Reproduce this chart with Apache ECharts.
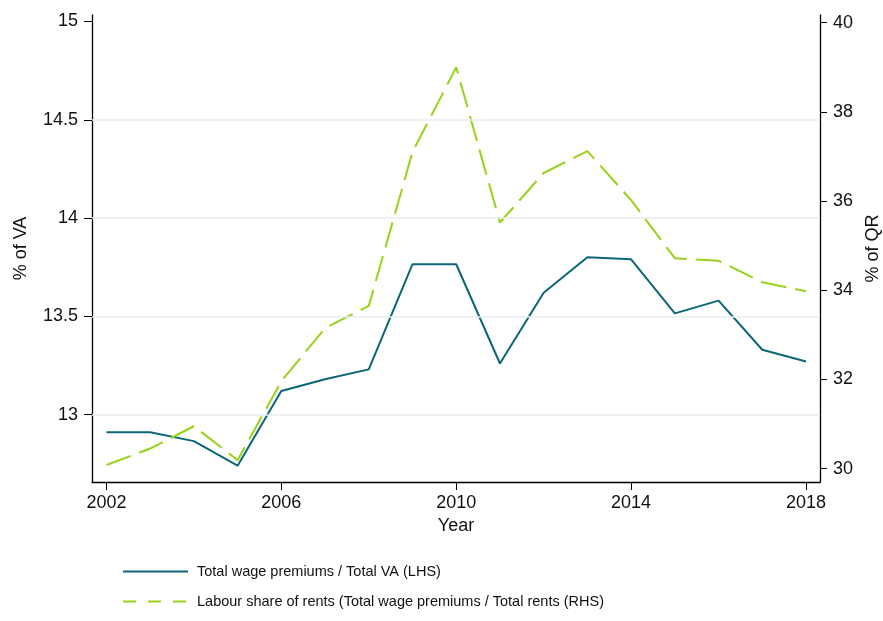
<!DOCTYPE html>
<html>
<head>
<meta charset="utf-8">
<script src="https://cdn.jsdelivr.net/npm/echarts@6/dist/echarts.min.js"></script>
<style>
  html, body { margin: 0; padding: 0; background: #fff; }
  #chart { width: 883px; height: 621px; }
</style>
</head>
<body>
<div id="chart"></div>
<script>
  // data
  var years = [2002, 2003, 2004, 2005, 2006, 2007, 2008, 2009, 2010, 2011, 2012, 2013, 2014, 2015, 2016, 2017, 2018];
  var wageVA = [12.91, 12.91, 12.865, 12.74, 13.12, 13.18, 13.23, 13.765, 13.765, 13.26, 13.62, 13.80, 13.79, 13.515, 13.58, 13.33, 13.27];
  var shareRents = [30.08, 30.45, 30.95, 30.19, 31.96, 33.15, 33.65, 37.1, 39.0, 35.52, 36.63, 37.12, 36.02, 34.72, 34.66, 34.18, 33.98];
  var xTicks = [2002, 2006, 2010, 2014, 2018];
  var leftTicks = [13, 13.5, 14, 14.5, 15];
  var rightTicks = [30, 32, 34, 36, 38, 40];
  var gridValues = [13, 13.5, 14, 14.5];

  var nameA = 'Total wage premiums / Total VA (LHS)';
  var nameB = 'Labour share of rents (Total wage premiums / Total rents (RHS)';

  var font = 'Liberation Sans, Arial, sans-serif';
  var ink = '#111';
  var teal = '#0b6677';
  var lime = '#99d11b';

  function pairs(xs, ys) {
    var out = [];
    for (var i = 0; i < xs.length; i++) out.push([xs[i], ys[i]]);
    return out;
  }

  var chart = echarts.init(document.getElementById('chart'), null, { renderer: 'canvas' });

  var axisLine = { show: true, lineStyle: { color: '#000', width: 1.3 } };

  // one legend per row, so the rows never wrap into columns
  function legendFor(name, top, dash) {
    return {
      data: [name],
      left: 122,
      top: top,
      padding: 0,
      itemWidth: 65,
      itemHeight: 14,
      itemGap: 10,
      itemStyle: { color: 'rgba(0,0,0,0)', borderWidth: 0 },
      lineStyle: { width: 2, type: dash },
      textStyle: { fontFamily: font, fontSize: 14.5, color: ink, padding: [0, 0, 0, 4] }
    };
  }

  chart.setOption({
    animation: false,
    backgroundColor: '#fff',
    textStyle: { fontFamily: font },
    grid: { left: 92, right: 63, top: 15, bottom: 139, outerBoundsMode: 'none', containLabel: false },
    legend: [
      legendFor(nameA, 564, 'solid'),
      legendFor(nameB, 594, [13, 12])
    ],
    xAxis: {
      type: 'value',
      min: 2001.67,
      max: 2018.32,
      name: 'Year',
      nameLocation: 'middle',
      nameGap: 33,
      nameTextStyle: { fontSize: 18, color: ink },
      axisLine: axisLine,
      axisTick: { show: true, length: 8, customValues: xTicks, lineStyle: { color: '#000' } },
      axisLabel: {
        fontSize: 18, color: ink, margin: 12, customValues: xTicks,
        formatter: function(v) { return String(v); }
      },
      splitLine: { show: false }
    },
    yAxis: [{
      type: 'value',
      position: 'left',
      min: 12.657,
      max: 15.033,
      name: '% of VA',
      nameLocation: 'middle',
      nameGap: 62,
      nameTextStyle: { fontSize: 18, color: ink },
      axisLine: axisLine,
      axisTick: { show: true, length: 8, customValues: leftTicks, lineStyle: { color: '#000' } },
      axisLabel: { fontSize: 18, color: ink, margin: 14, customValues: leftTicks },
      splitLine: { show: false }
    }, {
      type: 'value',
      position: 'right',
      min: 29.70,
      max: 40.173,
      name: '% of QR',
      nameLocation: 'middle',
      nameGap: 43,
      nameTextStyle: { fontSize: 18, color: ink },
      axisLine: axisLine,
      axisTick: { show: true, length: 7, customValues: rightTicks, lineStyle: { color: '#000' } },
      axisLabel: { fontSize: 18, color: ink, margin: 13, customValues: rightTicks },
      splitLine: { show: false }
    }],
    series: [{
      // light horizontal gridlines, under the data lines
      name: 'grid',
      type: 'line',
      data: [],
      z: 1,
      silent: true,
      markLine: {
        silent: true,
        symbol: ['none', 'none'],
        label: { show: false },
        lineStyle: { color: '#e6edf2', type: 'solid', width: 1.5 },
        data: gridValues.map(function(v) { return { yAxis: v }; })
      }
    }, {
      name: nameA,
      type: 'line',
      yAxisIndex: 0,
      z: 3,
      symbol: 'none',
      color: teal,
      lineStyle: { color: teal, width: 2 },
      data: pairs(years, wageVA)
    }, {
      name: nameB,
      type: 'line',
      yAxisIndex: 1,
      z: 3,
      symbol: 'none',
      color: lime,
      lineStyle: { color: lime, width: 2, type: [26, 9] },
      data: pairs(years, shareRents)
    }]
  });
</script>
</body>
</html>
